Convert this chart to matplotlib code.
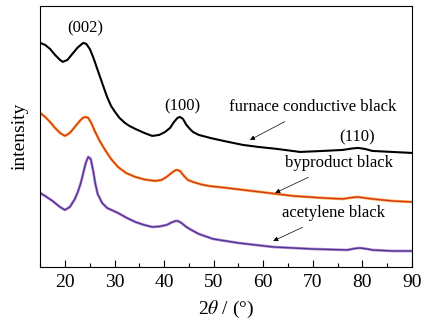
import matplotlib.pyplot as plt
from matplotlib.ticker import MultipleLocator

plt.rcParams['font.family'] = ['Liberation Serif', 'DejaVu Serif']
plt.rcParams['mathtext.fontset'] = 'stix'

# XRD patterns, 2theta (deg) vs intensity (a.u., stacked)
furnace_x = [15, 16, 17, 18, 19, 19.6, 20.5, 21.5, 22.5, 23.2, 23.7, 24.3, 25,
             25.6, 26.1, 26.8, 27.5, 28.5, 29.3, 30.1, 31, 32.1, 33, 34.2, 36,
             37.6, 39, 40.2, 41.2, 42, 42.7, 43.2, 43.8, 44.5, 45.2, 45.8, 47,
             49.3, 52, 55.9, 59, 62.8, 67.4, 72, 76, 78, 79.1, 80.5, 82, 86, 90]
furnace_y = [224, 222, 218, 212, 207, 205, 207, 213, 219, 222, 224, 223, 218,
             211, 204, 194, 184, 170, 161, 155, 149, 144, 141, 138, 134,
             131, 132, 135, 139, 145, 149, 150, 148, 142, 138, 135, 132,
             129, 126, 122, 120, 118, 115, 116, 117, 118.5, 119, 118, 116, 115, 114]

byproduct_x = [15, 16, 17, 18, 19, 20, 21, 22, 23, 23.6, 24.1, 24.7, 25.3,
               26.1, 27, 28.1, 29.3, 30.7, 32.3, 34.2, 36, 38.2, 39.5, 40.5,
               41.5, 42.2, 42.6, 43.2, 44, 44.8, 45.8, 47.5, 49, 52.7, 56,
               59.4, 66, 72, 76, 78, 79, 80.5, 82, 86, 90]
byproduct_y = [154, 150, 145, 139, 134, 131, 134, 140, 146, 149, 150, 149, 144,
               135, 126, 117, 108, 100, 94, 90, 87.5, 86, 87, 90,
               94, 96.5, 97, 96, 91, 87, 85, 82.5, 81, 79, 77,
               75, 71, 69, 68, 69.5, 70, 69, 68, 66, 65]

acetylene_x = [15, 16, 17.5, 19, 20, 21, 22, 22.6, 23.2, 23.7, 24.2, 24.7,
               25.2, 25.7, 26.1, 26.6, 27.5, 28.5, 30.7, 32.5, 34.2, 36, 37.6,
               39, 40.5, 41.5, 42.3, 42.8, 43.5, 44.5, 45.5, 47, 49.9, 55, 62,
               70, 76.9, 78.5, 79.5, 81, 82, 86, 90]
acetylene_y = [74, 71, 66, 60, 57, 60, 68, 75, 84, 94, 104, 110,
               108, 96, 84, 73, 64, 59, 54, 49, 45, 42, 40,
               40.5, 42, 44.5, 46, 46, 44, 40, 37, 33, 28, 24, 20,
               18, 17, 18.5, 19, 18, 17, 16, 16]

fig = plt.figure(figsize=(4.27, 3.26), dpi=100)
ax = fig.add_axes([0.094, 0.181, 0.871, 0.801])

ax.plot(furnace_x, furnace_y, color='black', lw=1.5)
ax.plot(byproduct_x, byproduct_y, color='#f7b040', lw=2.0)
ax.plot(byproduct_x, byproduct_y, color='#d8321c', lw=1.0)
ax.plot(acetylene_x, acetylene_y, color='#c48ad8', lw=2.0)
ax.plot(acetylene_x, acetylene_y, color='#463a8e', lw=1.0)

ax.set_xlim(15, 90)
ax.set_ylim(0, 261)
ax.xaxis.set_major_locator(MultipleLocator(10))
ax.xaxis.set_minor_locator(MultipleLocator(5))
ax.tick_params(axis='x', which='major', direction='in', length=5, width=0.8,
               labelsize=14, pad=5)
ax.tick_params(axis='x', which='minor', direction='in', length=3, width=0.8)
ax.set_yticks([])
for s in ax.spines.values():
    s.set_linewidth(0.8)

ax.set_xlabel(r'2$\theta$ / (°)', fontsize=14, labelpad=6)
ax.set_ylabel('intensity', fontsize=14, labelpad=8)

fs = 12
ax.text(24.1, 238, '(002)', ha='center', va='center', fontsize=fs)
ax.text(43.6, 161, '(100)', ha='center', va='center', fontsize=fs)
ax.text(79, 130, '(110)', ha='center', va='center', fontsize=fs)

arrow = dict(arrowstyle='-|>', lw=0.5, color='black', mutation_scale=7)
ax.annotate('furnace conductive black', xy=(57.3, 127), xytext=(70, 160),
            ha='center', va='center', fontsize=fs,
            arrowprops=dict(arrow, shrinkA=6, shrinkB=0))
ax.annotate('byproduct black', xy=(62.4, 74), xytext=(75.2, 104),
            ha='center', va='center', fontsize=fs,
            arrowprops=dict(arrow, shrinkA=6, shrinkB=0))
ax.annotate('acetylene black', xy=(62, 26), xytext=(74.1, 54),
            ha='center', va='center', fontsize=fs,
            arrowprops=dict(arrow, shrinkA=6, shrinkB=0))

fig.savefig('out.png', dpi=100)
